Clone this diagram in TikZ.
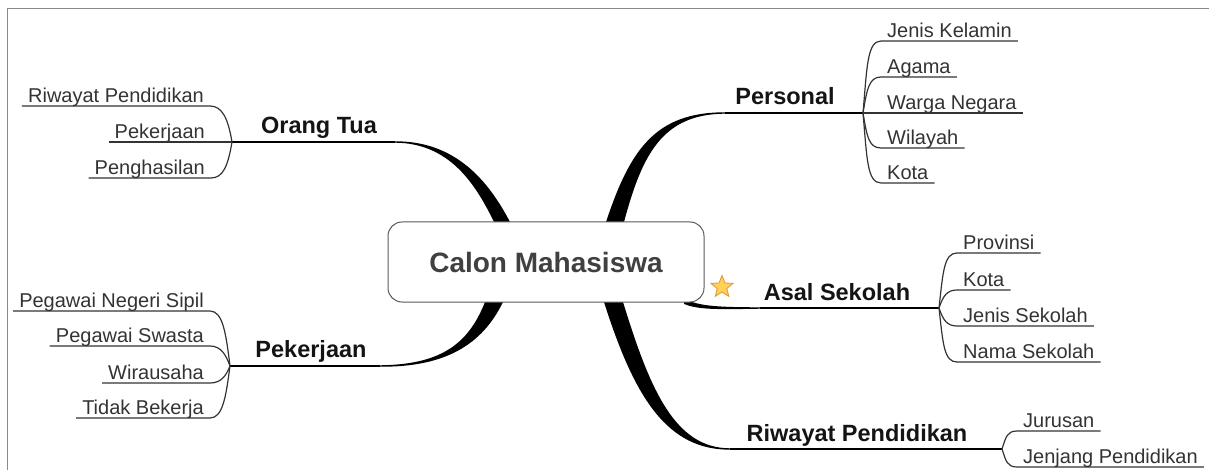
\documentclass[tikz,border=0pt]{standalone}
\usepackage{fontspec}
\setmainfont{Liberation Sans}
\usetikzlibrary{shapes.geometric}
\definecolor{subtxt}{HTML}{333333}
\definecolor{centraltxt}{HTML}{404040}
\definecolor{nodeborder}{HTML}{5A5A5A}
\definecolor{framecol}{HTML}{8A8A8A}
\definecolor{starfill}{HTML}{FFD35A}
\definecolor{stardraw}{HTML}{E39A3B}
\begin{document}
\begin{tikzpicture}[x=1pt,y=-1pt,
  subitem/.style={font=\fontsize{20}{22}\selectfont, text=subtxt, inner xsep=6pt, inner ysep=1.2pt, text depth=0.2em, text height=0.72em},
  leftitem/.style={subitem, anchor=south east},
  rightitem/.style={subitem, anchor=south west},
  branchlbl/.style={font=\bfseries\fontsize{23.5}{26}\selectfont, text=black!92, anchor=base, inner sep=0pt},
  subline/.style={draw=subtxt, line width=1.2pt},
  mainline/.style={draw=black, line width=1.5pt},
  taper/.style={fill=black},
  framestyle/.style={draw=framecol, line width=1.5pt}
]
\useasboundingbox (0,0) rectangle (1209,470);
% frame
\coordinate (fA) at (7.5,470);
\coordinate (fB) at (7.5,8.5);
\coordinate (fC) at (1209,8.5);
\draw[framestyle] (fA) -- (fB) -- (fC);

% fork points
\coordinate (ot) at (232,142);
\coordinate (pk) at (230,366);
\coordinate (ps) at (863,113);
\coordinate (as) at (939,308);
\coordinate (rp) at (1002,449);
\coordinate (otT) at (395,142);
\coordinate (pkT) at (380,366);
\coordinate (psT) at (725,113);
\coordinate (asT) at (760,308);
\coordinate (rpT) at (730,449);

% tapered branches
\path[taper] (395,141.3) .. controls (455,141) and (488,180) .. (510,222)
  -- (494,222) .. controls (476,185) and (450,143) .. (395,142.7) -- cycle;
\path[taper] (485,302) .. controls (468,345) and (440,364.5) .. (380,365.3)
  -- (380,366.7) .. controls (445,367.2) and (482,345) .. (503,302) -- cycle;
\path[taper] (606,222) .. controls (630,150) and (655,112.2) .. (725,112.3)
  -- (725,113.7) .. controls (662,114) and (642,155) .. (624,222) -- cycle;
\path[taper] (604,302) .. controls (635,400) and (668,449.7) .. (730,449.7)
  -- (730,448.3) .. controls (675,448.2) and (650,390) .. (623,302) -- cycle;
\path[taper] (684,299) .. controls (700,306) and (715,307.2) .. (760,307.3)
  -- (760,308.7) .. controls (715,309.6) and (698,309.5) .. (684,304) -- cycle;

% main horizontal lines
\draw[mainline] (ot) -- (otT);
\draw[mainline] (pk) -- (pkT);
\draw[mainline] (psT) -- (ps);
\draw[mainline] (asT) -- (as);
\draw[mainline] (rpT) -- (rp);

% central node
\node[draw=nodeborder, line width=1pt, rounded corners=14pt, fill=white,
  minimum width=316pt, minimum height=80pt,
  font=\bfseries\fontsize{28}{32}\selectfont, text=centraltxt] (cm) at (546,262) {Calon Mahasiswa};

% star
\node[star, star points=5, star point ratio=2.3, minimum size=23pt, inner sep=0pt,
  fill=starfill, draw=stardraw, line width=0.9pt] (st) at (722,287) {};

% branch labels
\node[branchlbl] (lOT) at (319,134) {Orang Tua};
\node[branchlbl] (lPK) at (311,357) {Pekerjaan};
\node[branchlbl] (lPS) at (785,105) {Personal};
\node[branchlbl] (lAS) at (837,300) {Asal Sekolah};
\node[branchlbl] (lRP) at (857,441) {Riwayat Pendidikan};

% Orang Tua items
\node[leftitem] (ot1) at (210,106) {Riwayat Pendidikan};
\node[leftitem] (ot2) at (211,142) {Pekerjaan};
\node[leftitem] (ot3) at (211,178) {Penghasilan};
\draw[subline] (ot1.south west) -- (ot1.south east) .. controls +(12,0) and +(-4,-24) .. (ot);
\draw[subline] (ot2.south west) -- (ot);
\draw[subline] (ot3.south west) -- (ot3.south east) .. controls +(12,0) and +(-4,24) .. (ot);

% Pekerjaan items
\node[leftitem] (pk1) at (210,311) {Pegawai Negeri Sipil};
\node[leftitem] (pk2) at (210,346) {Pegawai Swasta};
\node[leftitem] (pk3) at (210,383) {Wirausaha};
\node[leftitem] (pk4) at (210,418) {Tidak Bekerja};
\draw[subline] (pk1.south west) -- (pk1.south east) .. controls +(13,0) and +(-4,-32) .. (pk);
\draw[subline] (pk2.south west) -- (pk2.south east) .. controls +(11,0) and +(-4,-11) .. (pk);
\draw[subline] (pk3.south west) -- (pk3.south east) .. controls +(11,0) and +(-4,10) .. (pk);
\draw[subline] (pk4.south west) -- (pk4.south east) .. controls +(13,0) and +(-4,30) .. (pk);

% Personal items
\node[rightitem] (ps1) at (881,41) {Jenis Kelamin};
\node[rightitem] (ps2) at (881,77) {Agama};
\node[rightitem] (ps3) at (881,113) {Warga Negara};
\node[rightitem] (ps4) at (881,148) {Wilayah};
\node[rightitem] (ps5) at (881,183) {Kota};
\draw[subline] (ps) .. controls +(4,-45) and +(-14,0) .. (ps1.south west) -- (ps1.south east);
\draw[subline] (ps) .. controls +(4,-24) and +(-12,0) .. (ps2.south west) -- (ps2.south east);
\draw[subline] (ps) -- (ps3.south east);
\draw[subline] (ps) .. controls +(4,24) and +(-12,0) .. (ps4.south west) -- (ps4.south east);
\draw[subline] (ps) .. controls +(4,45) and +(-14,0) .. (ps5.south west) -- (ps5.south east);

% Asal Sekolah items
\node[rightitem] (as1) at (957,253) {Provinsi};
\node[rightitem] (as2) at (957,290) {Kota};
\node[rightitem] (as3) at (957,326) {Jenis Sekolah};
\node[rightitem] (as4) at (957,362) {Nama Sekolah};
\draw[subline] (as) .. controls +(4,-36) and +(-13,0) .. (as1.south west) -- (as1.south east);
\draw[subline] (as) .. controls +(4,-12) and +(-10,0) .. (as2.south west) -- (as2.south east);
\draw[subline] (as) .. controls +(4,12) and +(-10,0) .. (as3.south west) -- (as3.south east);
\draw[subline] (as) .. controls +(4,36) and +(-13,0) .. (as4.south west) -- (as4.south east);

% Riwayat Pendidikan items
\node[rightitem] (rp1) at (1017,431) {Jurusan};
\node[rightitem] (rp2) at (1017,467) {Jenjang Pendidikan};
\draw[subline] (rp) .. controls +(4,-12) and +(-10,0) .. (rp1.south west) -- (rp1.south east);
\draw[subline] (rp) .. controls +(4,12) and +(-10,0) .. (rp2.south west) -- (rp2.south east);
\end{tikzpicture}
\end{document}
